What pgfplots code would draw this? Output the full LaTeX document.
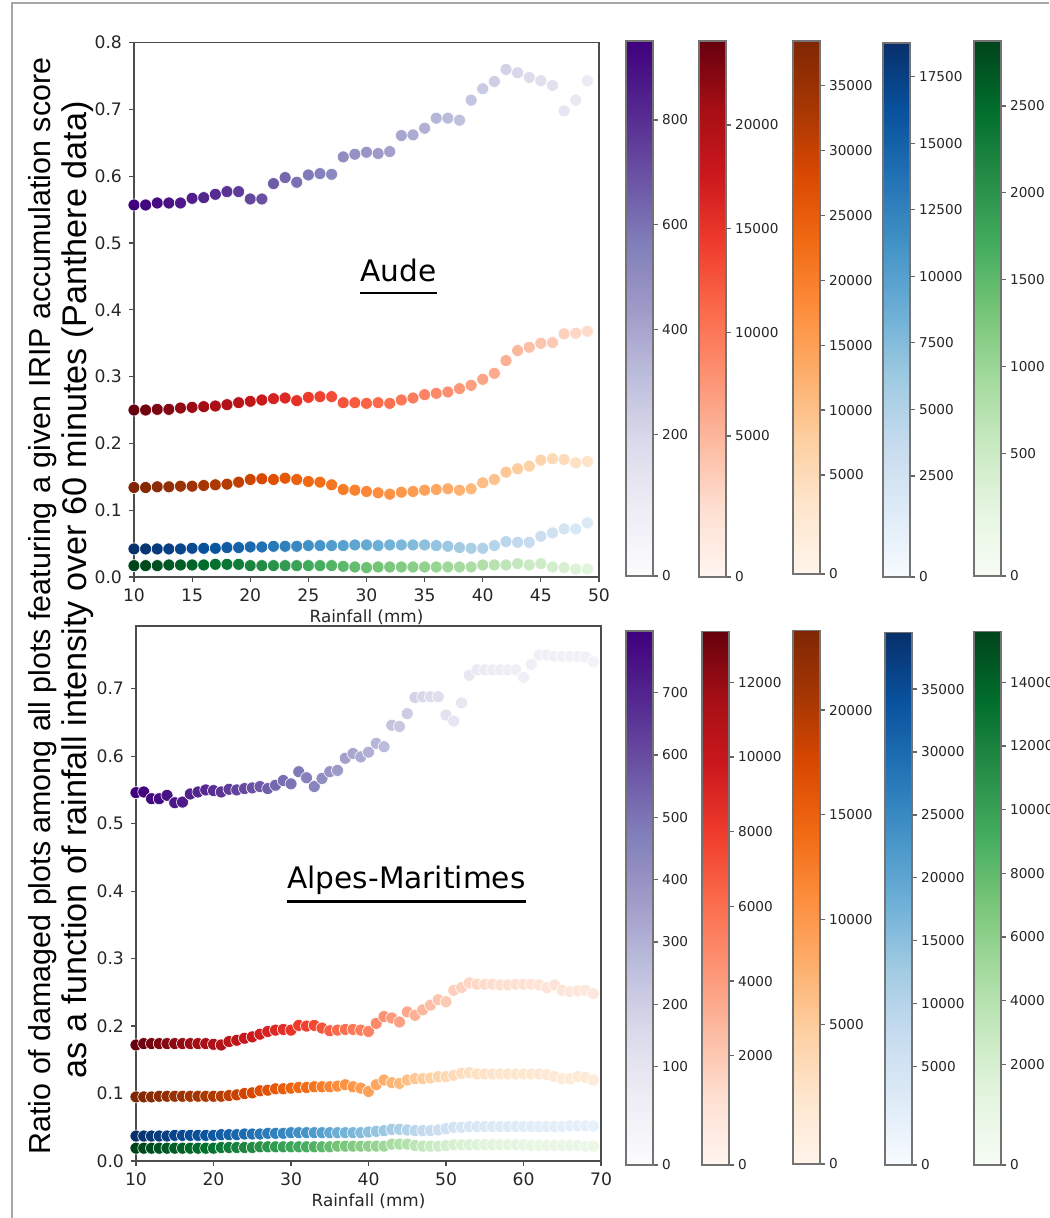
\documentclass[border=0pt]{standalone}
\usepackage{pgfplots}
\pgfplotsset{compat=1.18}
\usepackage{pgfplotstable}
\usepackage{fontspec}
\setmainfont{DejaVu Sans}
\newfontfamily\labelfont{Liberation Sans}

% ColorBrewer sequential maps
\pgfplotsset{
  colormap={Purples}{rgb255=(252,251,253) rgb255=(239,237,245) rgb255=(218,218,235) rgb255=(188,189,220) rgb255=(158,154,200) rgb255=(128,125,186) rgb255=(106,81,163) rgb255=(84,39,143) rgb255=(63,0,125)},
  colormap={Reds}{rgb255=(255,245,240) rgb255=(254,224,210) rgb255=(252,187,161) rgb255=(252,146,114) rgb255=(251,106,74) rgb255=(239,59,44) rgb255=(203,24,29) rgb255=(165,15,21) rgb255=(103,0,13)},
  colormap={Oranges}{rgb255=(255,245,235) rgb255=(254,230,206) rgb255=(253,208,162) rgb255=(253,174,107) rgb255=(253,141,60) rgb255=(241,105,19) rgb255=(217,72,1) rgb255=(166,54,3) rgb255=(127,39,4)},
  colormap={Blues}{rgb255=(247,251,255) rgb255=(222,235,247) rgb255=(198,219,239) rgb255=(158,202,225) rgb255=(107,174,214) rgb255=(66,146,198) rgb255=(33,113,181) rgb255=(8,81,156) rgb255=(8,48,107)},
  colormap={Greens}{rgb255=(247,252,245) rgb255=(229,245,224) rgb255=(199,233,192) rgb255=(161,217,155) rgb255=(116,196,118) rgb255=(65,171,93) rgb255=(35,139,69) rgb255=(0,109,44) rgb255=(0,68,27)},
}

% Aude: ratio per IRIP score class (pu..gr) and relative number of plots (s)
\pgfplotstableread{
x  pu    re    or    bl    gr    s
10 0.557 0.250 0.134 0.042 0.017 1.00
11 0.557 0.250 0.134 0.042 0.017 0.98
12 0.560 0.251 0.135 0.042 0.017 0.96
13 0.560 0.251 0.135 0.042 0.018 0.94
14 0.560 0.253 0.136 0.042 0.018 0.92
15 0.567 0.254 0.136 0.043 0.018 0.90
16 0.568 0.255 0.137 0.043 0.018 0.88
17 0.573 0.256 0.138 0.043 0.019 0.86
18 0.577 0.258 0.139 0.044 0.019 0.84
19 0.577 0.261 0.142 0.044 0.019 0.81
20 0.566 0.263 0.146 0.045 0.017 0.78
21 0.566 0.265 0.147 0.045 0.017 0.75
22 0.589 0.267 0.146 0.046 0.017 0.72
23 0.598 0.268 0.148 0.046 0.017 0.69
24 0.591 0.264 0.146 0.046 0.017 0.66
25 0.602 0.269 0.143 0.047 0.017 0.63
26 0.604 0.270 0.142 0.047 0.017 0.61
27 0.603 0.270 0.138 0.047 0.017 0.58
28 0.629 0.261 0.131 0.047 0.016 0.56
29 0.633 0.261 0.130 0.048 0.015 0.54
30 0.636 0.260 0.128 0.048 0.014 0.52
31 0.634 0.261 0.126 0.047 0.015 0.50
32 0.637 0.260 0.124 0.048 0.015 0.48
33 0.661 0.265 0.127 0.048 0.015 0.46
34 0.662 0.268 0.128 0.048 0.015 0.44
35 0.672 0.273 0.130 0.048 0.015 0.42
36 0.687 0.275 0.131 0.047 0.015 0.40
37 0.687 0.277 0.132 0.046 0.015 0.38
38 0.684 0.282 0.130 0.044 0.015 0.36
39 0.714 0.287 0.132 0.043 0.015 0.34
40 0.731 0.296 0.141 0.043 0.018 0.32
41 0.742 0.305 0.146 0.047 0.018 0.30
42 0.760 0.324 0.157 0.053 0.018 0.28
43 0.755 0.339 0.162 0.052 0.020 0.26
44 0.748 0.344 0.166 0.052 0.018 0.24
45 0.743 0.350 0.175 0.061 0.020 0.22
46 0.736 0.351 0.177 0.066 0.015 0.20
47 0.698 0.364 0.176 0.072 0.014 0.18
48 0.714 0.365 0.171 0.072 0.012 0.16
49 0.743 0.368 0.173 0.081 0.012 0.14
}\aude

% Alpes-Maritimes
\pgfplotstableread{
x  pu    re    or    bl    gr    s
10 0.546 0.172 0.095 0.037 0.019 1.00
11 0.547 0.174 0.095 0.037 0.019 0.985
12 0.537 0.174 0.095 0.037 0.019 0.97
13 0.537 0.174 0.096 0.037 0.019 0.955
14 0.542 0.174 0.096 0.037 0.019 0.94
15 0.531 0.174 0.096 0.038 0.019 0.925
16 0.532 0.174 0.096 0.038 0.019 0.91
17 0.544 0.174 0.096 0.038 0.019 0.895
18 0.547 0.174 0.096 0.038 0.019 0.88
19 0.550 0.174 0.096 0.038 0.019 0.865
20 0.549 0.173 0.096 0.038 0.019 0.85
21 0.547 0.172 0.096 0.039 0.020 0.83
22 0.551 0.177 0.097 0.039 0.020 0.81
23 0.550 0.179 0.098 0.039 0.020 0.79
24 0.552 0.182 0.100 0.040 0.020 0.77
25 0.553 0.184 0.101 0.040 0.020 0.75
26 0.555 0.188 0.104 0.040 0.021 0.73
27 0.552 0.192 0.105 0.041 0.021 0.71
28 0.557 0.194 0.107 0.041 0.021 0.69
29 0.564 0.195 0.107 0.041 0.021 0.67
30 0.559 0.194 0.108 0.042 0.021 0.65
31 0.577 0.201 0.109 0.042 0.021 0.63
32 0.568 0.200 0.109 0.042 0.021 0.61
33 0.555 0.201 0.110 0.042 0.021 0.59
34 0.567 0.197 0.110 0.042 0.021 0.56
35 0.577 0.193 0.110 0.042 0.021 0.53
36 0.579 0.194 0.111 0.042 0.022 0.50
37 0.597 0.195 0.113 0.042 0.022 0.48
38 0.604 0.195 0.110 0.042 0.022 0.46
39 0.599 0.194 0.108 0.042 0.022 0.44
40 0.606 0.192 0.103 0.043 0.022 0.42
41 0.619 0.204 0.113 0.044 0.022 0.40
42 0.614 0.214 0.120 0.045 0.022 0.38
43 0.646 0.212 0.116 0.047 0.025 0.35
44 0.644 0.206 0.115 0.047 0.025 0.33
45 0.663 0.221 0.120 0.046 0.025 0.31
46 0.687 0.216 0.122 0.045 0.023 0.28
47 0.688 0.224 0.122 0.045 0.022 0.26
48 0.688 0.231 0.123 0.045 0.022 0.24
49 0.688 0.239 0.125 0.046 0.022 0.22
50 0.661 0.236 0.125 0.048 0.023 0.20
51 0.652 0.253 0.127 0.050 0.024 0.18
52 0.679 0.257 0.130 0.050 0.024 0.17
53 0.720 0.264 0.131 0.051 0.024 0.16
54 0.728 0.262 0.129 0.051 0.024 0.15
55 0.728 0.262 0.129 0.051 0.024 0.14
56 0.728 0.262 0.129 0.051 0.024 0.135
57 0.728 0.261 0.129 0.051 0.024 0.13
58 0.728 0.261 0.129 0.051 0.024 0.125
59 0.728 0.262 0.129 0.051 0.024 0.12
60 0.717 0.262 0.129 0.051 0.024 0.115
61 0.736 0.262 0.129 0.051 0.023 0.11
62 0.750 0.261 0.129 0.051 0.023 0.105
63 0.750 0.257 0.128 0.051 0.023 0.10
64 0.748 0.261 0.125 0.051 0.023 0.10
65 0.748 0.253 0.122 0.051 0.023 0.095
66 0.748 0.251 0.122 0.052 0.023 0.09
67 0.748 0.252 0.125 0.052 0.023 0.09
68 0.747 0.253 0.124 0.052 0.022 0.085
69 0.740 0.248 0.120 0.052 0.022 0.08
}\alpes

\pgfplotsset{
  panel/.style={
    scale only axis, width=232.5pt,
    xlabel={Rainfall (mm)},
    axis line style={black!70, line width=0.6pt},
    tick style={black!70, line width=0.6pt},
    tick align=outside, major tick length=2.5pt,
    xtick pos=bottom, ytick pos=left,
    ticklabel style={font=\fontsize{8.6}{10}\selectfont, text=black!85},
    xlabel style={font=\fontsize{8.4}{10}\selectfont, text=black!85, yshift=3pt},
    /pgf/number format/assume math mode=true,
    yticklabel style={/pgf/number format/.cd, fixed, fixed zerofill, precision=1},
    point meta min=0, point meta max=1,
  },
  dots/.style={scatter, only marks, mark=*, mark size=3pt,
    colormap name=#1, point meta=\thisrow{s},
    scatter/use mapped color={draw=white, fill=mapped color, line width=0.3pt}},
}

% colour bar: left, bottom, height, map, min, max, ticks, labels
\newcommand{\cbar}[8]{%
  \begin{axis}[at={(#1-8.5pt,#2)}, anchor=south west, scale only axis,
    width=13.5pt, height=#3, hide axis, xmin=0, xmax=1, ymin=0, ymax=1,
    colormap name=#4, point meta min=#5, point meta max=#6, colorbar,
    colorbar style={at={(parent axis.south west)}, anchor=south west,
      width=13.5pt, height=#3,
      ytick={#7}, yticklabels={#8}, scaled y ticks=false,
      ytick pos=right, yticklabel pos=right, tick align=outside,
      major tick length=2.5pt,
      axis line style={black!55, line width=0.6pt},
      tick style={black!60, line width=0.6pt},
      yticklabel style={font=\fontsize{6.8}{8}\selectfont, text=black!85, xshift=-1.5pt}}]
  \addplot[draw=none] coordinates {(0,0)};
  \end{axis}}

\begin{document}
\begin{tikzpicture}
\useasboundingbox (0,0) rectangle (524.5pt,609pt);
\draw[black!35, line width=0.6pt] (6pt,0) -- (6pt,607.5pt) -- (524.5pt,607.5pt);

% ---- Aude ----
\begin{axis}[panel, at={(67pt,320.5pt)}, anchor=south west, height=267.15pt,
  xmin=10, xmax=50, ymin=0, ymax=0.8, xtick={10,15,...,50}, ytick={0,0.1,...,0.8}]
  \addplot[dots=Purples] table[x=x, y=pu] {\aude};
  \addplot[dots=Reds]    table[x=x, y=re] {\aude};
  \addplot[dots=Oranges] table[x=x, y=or] {\aude};
  \addplot[dots=Blues]   table[x=x, y=bl] {\aude};
  \addplot[dots=Greens]  table[x=x, y=gr] {\aude};
  \node[inner sep=0pt, anchor=base, font=\fontsize{14.8}{16}\selectfont] (aude) at (axis cs:32.75,0.443) {Aude};
  \draw[line width=1.2pt] ([yshift=-5.9pt]aude.base west) -- ([yshift=-5.9pt]aude.base east);
\end{axis}

% ---- Alpes-Maritimes ----
\begin{axis}[panel, at={(68pt,28.5pt)}, anchor=south west, height=267.5pt,
  xmin=10, xmax=70, ymin=0, ymax=0.793, xtick={10,20,...,70}, ytick={0,0.1,...,0.7}]
  \addplot[dots=Purples] table[x=x, y=pu] {\alpes};
  \addplot[dots=Reds]    table[x=x, y=re] {\alpes};
  \addplot[dots=Oranges] table[x=x, y=or] {\alpes};
  \addplot[dots=Blues]   table[x=x, y=bl] {\alpes};
  \addplot[dots=Greens]  table[x=x, y=gr] {\alpes};
  \node[inner sep=0pt, anchor=base, font=\fontsize{14.8}{16}\selectfont] (am) at (axis cs:44.9,0.404) {Alpes-Maritimes};
  \draw[line width=1.2pt] ([yshift=-6.6pt]am.base west) -- ([yshift=-6.6pt]am.base east);
\end{axis}

% ---- colour bars, Aude ----
\cbar{313pt}{321pt}{267.5pt}{Purples}{-71}{951}{-71,200,400,600,800}{0,200,400,600,800}
\cbar{349.5pt}{320.5pt}{268pt}{Reds}{-1800}{24051}{-1800,5000,10000,15000,20000}{0,5000,10000,15000,20000}
\cbar{396.5pt}{322pt}{266.5pt}{Oranges}{-2629}{38445}{-2629,5000,10000,15000,20000,25000,30000,35000}{0,5000,10000,15000,20000,25000,30000,35000}
\cbar{441.5pt}{320.5pt}{267pt}{Blues}{-1295}{18766}{-1295,2500,5000,7500,10000,12500,15000,17500}{0,2500,5000,7500,10000,12500,15000,17500}
\cbar{487pt}{321pt}{267.5pt}{Greens}{-207}{2874}{-207,500,1000,1500,2000,2500}{0,500,1000,1500,2000,2500}

% ---- colour bars, Alpes-Maritimes ----
\cbar{313pt}{26.5pt}{267pt}{Purples}{-58}{799}{-58,100,200,300,400,500,600,700}{0,100,200,300,400,500,600,700}
\cbar{351pt}{26.5pt}{266.6pt}{Reds}{-927}{13355}{-927,2000,4000,6000,8000,10000,12000}{0,2000,4000,6000,8000,10000,12000}
\cbar{396.5pt}{27pt}{266.6pt}{Oranges}{-1665}{23783}{-1665,5000,10000,15000,20000}{0,5000,10000,15000,20000}
\cbar{442.5pt}{26.5pt}{266.1pt}{Blues}{-2808}{39472}{-2808,5000,10000,15000,20000,25000,30000,35000}{0,5000,10000,15000,20000,25000,30000,35000}
\cbar{487pt}{26.5pt}{266.6pt}{Greens}{-1163}{15589}{-1163,2000,4000,6000,8000,10000,12000,14000}{0,2000,4000,6000,8000,10000,12000,14000}

% shared y label, two lines
\node[rotate=90, anchor=base, inner sep=0pt, font=\labelfont\fontsize{15.2}{18}\selectfont] at (25pt,306pt)
  {Ratio of damaged plots among all plots featuring a given IRIP accumulation score};
\node[rotate=90, anchor=base, inner sep=0pt, font=\labelfont\fontsize{17.1}{20}\selectfont] at (43.3pt,314.2pt)
  {as a function of rainfall intensity over 60 minutes (Panthere data)};
\end{tikzpicture}
\end{document}
